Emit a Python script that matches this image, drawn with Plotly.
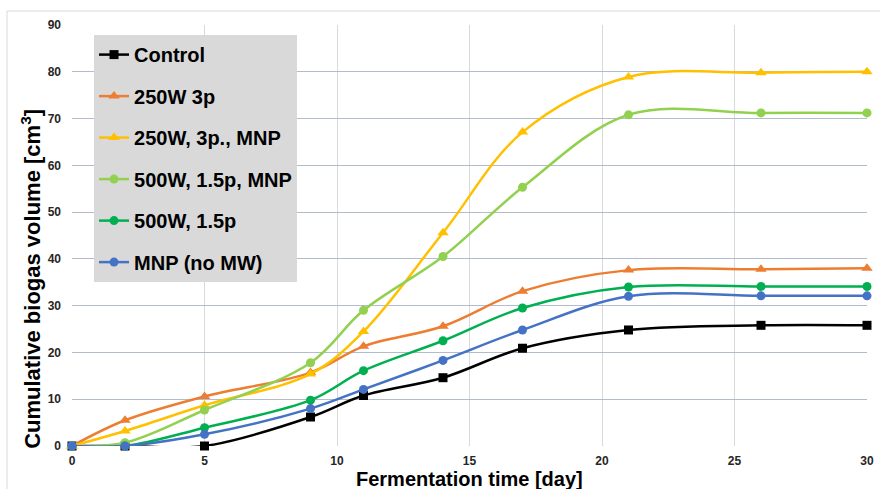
import plotly.graph_objects as go

days = [0, 2, 5, 9, 11, 14, 17, 21, 26, 30]

control = [0, 0, 0, 6.2, 10.8, 14.6, 20.9, 24.8, 25.8, 25.8]
w250_3p = [0, 5.5, 10.6, 15.7, 21.3, 25.6, 33.1, 37.6, 37.8, 38.0]
w250_3p_mnp = [0, 3.2, 8.7, 15.4, 24.5, 45.6, 67.1, 78.9, 79.8, 80.0]
w500_15p_mnp = [0, 0.7, 7.7, 17.8, 29.0, 40.5, 55.3, 70.8, 71.2, 71.2]
w500_15p = [0, 0, 3.9, 9.8, 16.1, 22.5, 29.5, 34.0, 34.1, 34.1]
mnp_no_mw = [0, 0, 2.5, 8.0, 12.1, 18.3, 24.8, 32.0, 32.1, 32.1]

series = [
    ("Control", control, "#000000", "square", 9),
    ("250W 3p", w250_3p, "#ED7D31", "triangle-up", 10),
    ("250W, 3p., MNP", w250_3p_mnp, "#FFC000", "triangle-up", 10),
    ("500W, 1.5p, MNP", w500_15p_mnp, "#92D050", "circle", 9),
    ("500W, 1.5p", w500_15p, "#00B050", "circle", 9),
    ("MNP (no MW)", mnp_no_mw, "#4472C4", "circle", 9),
]

x_ticks = [0, 5, 10, 15, 20, 25, 30]
y_ticks = [0, 10, 20, 30, 40, 50, 60, 70, 80, 90]

FONT = "Liberation Sans, Arial, sans-serif"

fig = go.Figure()
for i, (name, vals, color, sym, size) in enumerate(series):
    fig.add_trace(go.Scatter(
        x=days, y=vals, name=name, mode="lines+markers",
        line=dict(color=color, width=2.5, shape="spline", smoothing=1.0),
        marker=dict(color=color, symbol=sym, size=size),
        cliponaxis=False, legendgroup=f"g{i}",
    ))

fig.update_layout(
    width=880, height=489,
    margin=dict(l=72, r=13, t=25, b=43, autoexpand=False),
    paper_bgcolor="white", plot_bgcolor="white",
    font=dict(family=FONT, color="#000000"),
    showlegend=True,
    legend=dict(
        x=0.0277, y=0.976, xanchor="left", yanchor="top",
        bgcolor="#d9d9d9", borderwidth=0,
        font=dict(family=FONT, size=20, weight="bold", color="#000000"),
        tracegroupgap=12.5, traceorder="grouped",
        itemwidth=30,
    ),
    xaxis=dict(
        range=[0, 30], tickvals=x_ticks, ticktext=[str(v) for v in x_ticks],
        showgrid=True, gridcolor="#d9d9d9", gridwidth=1, automargin=False,
        zeroline=False, showline=False, ticks="",
        tickfont=dict(family=FONT, size=12, weight="bold", color="#262626"),
        ticklabelstandoff=6,
    ),
    yaxis=dict(
        range=[0, 90], tickvals=y_ticks, ticktext=[str(v) for v in y_ticks],
        showgrid=True, gridcolor="#b3bccd", gridwidth=1, automargin=False,
        zeroline=False, showline=False, ticks="",
        tickfont=dict(family=FONT, size=12, weight="bold", color="#262626"),
        ticklabelstandoff=10,
    ),
    annotations=[
        dict(text="Fermentation time [day]", xref="paper", yref="paper",
             x=0.5, y=-0.079, xanchor="center", yanchor="middle", showarrow=False,
             font=dict(family=FONT, size=20, weight="bold", color="#000000")),
        dict(text="Cumulative biogas volume [cm<sup>3</sup>]", xref="paper", yref="paper",
             x=-0.0516, y=0.397, xanchor="center", yanchor="middle", showarrow=False,
             textangle=-90,
             font=dict(family=FONT, size=22, weight="bold", color="#000000")),
    ],
    shapes=[
        dict(type="line", xref="paper", yref="paper", x0=-0.0818, x1=1.03, y0=1.0333, y1=1.0333,
             line=dict(color="#d9d9d9", width=1)),
        dict(type="line", xref="paper", yref="paper", x0=-0.0818, x1=-0.0818, y0=-0.12, y1=1.0333,
             line=dict(color="#d9d9d9", width=1)),
    ],
)

fig.write_html(
    "out.html",
    config={"displayModeBar": False},
    post_script="document.body.style.margin='0';document.body.style.overflow='hidden';",
)
